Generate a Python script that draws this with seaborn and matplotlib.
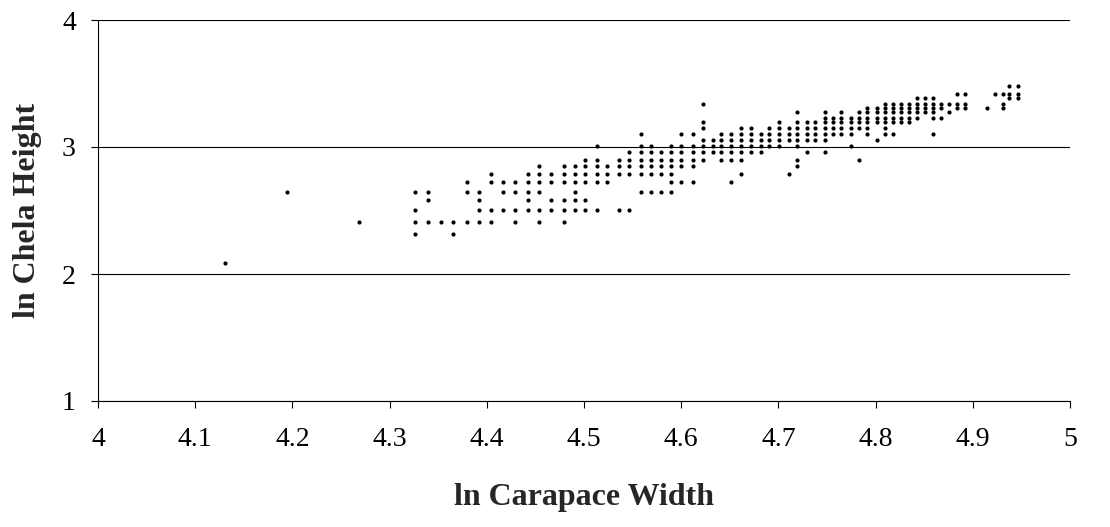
import numpy as np
import pandas as pd
import matplotlib
matplotlib.use("Agg")
import matplotlib.pyplot as plt
import seaborn as sns

# ---- data: ln carapace width (columns) and ln chela height values in each column ----
seg1_width = [4.131, 4.194, 4.269, 4.326, 4.339, 4.353, 4.365, 4.380, 4.392, 4.404]
seg1_height = [
    [2.089], [2.643], [2.407],
    [2.643, 2.502, 2.407, 2.313],
    [2.643, 2.580, 2.407],
    [2.407],
    [2.407, 2.313],
    [2.722, 2.643, 2.407],
    [2.643, 2.580, 2.502, 2.407],
    [2.785, 2.722, 2.502, 2.407],
]

seg2_width = [4.417, 4.429, 4.442, 4.454, 4.466, 4.479, 4.491, 4.501, 4.513, 4.524, 4.536, 4.546]
seg2_height = [
    [2.722, 2.643, 2.502],
    [2.722, 2.643, 2.502, 2.407],
    [2.785, 2.722, 2.643, 2.580, 2.502],
    [2.848, 2.785, 2.722, 2.643, 2.502, 2.407],
    [2.785, 2.722, 2.580, 2.502],
    [2.848, 2.785, 2.722, 2.580, 2.502, 2.407],
    [2.848, 2.785, 2.722, 2.643, 2.580, 2.502],
    [2.895, 2.848, 2.785, 2.722, 2.580, 2.502],
    [3.006, 2.895, 2.848, 2.785, 2.722, 2.502],
    [2.848, 2.785, 2.722],
    [2.895, 2.848, 2.785, 2.502],
    [2.958, 2.895, 2.848, 2.785, 2.502],
]

seg3_width = [4.559, 4.569, 4.579, 4.590, 4.600, 4.612, 4.622, 4.633, 4.641, 4.651, 4.662]
seg3_height = [
    [3.100, 3.006, 2.958, 2.895, 2.848, 2.785, 2.643],
    [3.006, 2.958, 2.895, 2.848, 2.785, 2.643],
    [2.958, 2.895, 2.848, 2.785, 2.643],
    [3.006, 2.958, 2.895, 2.848, 2.785, 2.722, 2.643],
    [3.100, 3.006, 2.958, 2.895, 2.848, 2.722],
    [3.100, 3.006, 2.958, 2.895, 2.848, 2.722],
    [3.336, 3.194, 3.147, 3.053, 3.006, 2.958, 2.895],
    [3.053, 3.006, 2.958],
    [3.100, 3.053, 3.006, 2.958, 2.895],
    [3.100, 3.053, 3.006, 2.958, 2.895, 2.722],
    [3.147, 3.100, 3.053, 3.006, 2.958, 2.895, 2.785],
]

seg4_width = [4.672, 4.682, 4.690, 4.701, 4.711, 4.719, 4.729, 4.738, 4.748, 4.756, 4.764]
seg4_height = [
    [3.147, 3.100, 3.053, 3.006, 2.958],
    [3.100, 3.053, 3.006, 2.958],
    [3.147, 3.100, 3.053, 3.006],
    [3.194, 3.147, 3.100, 3.053, 3.006],
    [3.147, 3.100, 3.053, 2.785],
    [3.273, 3.194, 3.147, 3.100, 3.053, 3.006, 2.895, 2.848],
    [3.194, 3.147, 3.100, 3.053, 2.958],
    [3.194, 3.147, 3.100, 3.053],
    [3.273, 3.226, 3.194, 3.147, 3.100, 3.053, 2.958],
    [3.226, 3.194, 3.147, 3.100],
    [3.273, 3.226, 3.194, 3.147, 3.100],
]

seg5_width = [4.775, 4.783, 4.791, 4.801, 4.810, 4.818, 4.826, 4.834, 4.843, 4.851]
seg5_height = [
    [3.226, 3.194, 3.147, 3.100, 3.006],
    [3.273, 3.226, 3.194, 3.147, 2.895],
    [3.305, 3.273, 3.226, 3.194, 3.147, 3.100],
    [3.305, 3.273, 3.226, 3.194, 3.053],
    [3.336, 3.305, 3.273, 3.226, 3.194, 3.147, 3.100],
    [3.336, 3.305, 3.273, 3.226, 3.194, 3.100],
    [3.336, 3.305, 3.273, 3.226, 3.194],
    [3.336, 3.305, 3.273, 3.226, 3.194],
    [3.383, 3.336, 3.305, 3.273, 3.226],
    [3.383, 3.336, 3.305, 3.273],
]

seg6_width = [4.859, 4.867, 4.876, 4.884, 4.892, 4.915, 4.923, 4.931, 4.937, 4.946]
seg6_height = [
    [3.383, 3.336, 3.305, 3.273, 3.226, 3.100],
    [3.336, 3.305, 3.226],
    [3.336, 3.273],
    [3.415, 3.336, 3.305],
    [3.415, 3.336, 3.305],
    [3.305],
    [3.415],
    [3.415, 3.336, 3.305],
    [3.478, 3.415, 3.383],
    [3.478, 3.415, 3.383],
]

x_ticks = [4.0, 4.1, 4.2, 4.3, 4.4, 4.5, 4.6, 4.7, 4.8, 4.9, 5.0]
x_tick_labels = ["4", "4.1", "4.2", "4.3", "4.4", "4.5", "4.6", "4.7", "4.8", "4.9", "5"]
y_ticks = [1, 2, 3, 4]
y_tick_labels = ["1", "2", "3", "4"]
x_title = "ln Carapace Width"
y_title = "ln Chela Height"

# ---- build table ----
rows = []
for widths, heights in [(seg1_width, seg1_height), (seg2_width, seg2_height),
                        (seg3_width, seg3_height), (seg4_width, seg4_height),
                        (seg5_width, seg5_height), (seg6_width, seg6_height)]:
    for w, hs in zip(widths, heights):
        for h in hs:
            rows.append((w, h))
df = pd.DataFrame(rows, columns=["ln_cw", "ln_ch"])

sns.set_style("ticks")
plt.rcParams['font.family'] = ['Liberation Serif', 'DejaVu Serif']

W, H = 1110, 527
fig = plt.figure(figsize=(W / 100, H / 100), dpi=100)
ax = fig.add_axes([98 / W, 1 - 401 / H, 972 / W, 381 / H])

sns.scatterplot(data=df, x="ln_cw", y="ln_ch", ax=ax, color="black", s=9,
                marker="o", linewidth=0, legend=False, zorder=3)

ax.set_xlim(4, 5)
ax.set_ylim(1, 4)
ax.set_xticks(x_ticks)
ax.set_xticklabels(x_tick_labels)
ax.set_yticks(y_ticks)
ax.set_yticklabels(y_tick_labels)

ax.yaxis.grid(True, color="black", linewidth=0.8)
ax.xaxis.grid(False)
ax.set_axisbelow(True)
for side in ["top", "right"]:
    ax.spines[side].set_visible(False)
for side in ["left", "bottom"]:
    ax.spines[side].set_color("black")
    ax.spines[side].set_linewidth(0.8)

ax.tick_params(axis="both", direction="out", length=5, width=0.8, colors="black",
               labelsize=20)
ax.tick_params(axis="x", pad=14)
ax.tick_params(axis="y", pad=11)

ax.set_xlabel(x_title, fontsize=23, fontweight="bold")
ax.set_ylabel(y_title, fontsize=23, fontweight="bold")
ax.xaxis.set_label_coords(0.5, (401 - 497) / 381)
ax.xaxis.label.set_va("center")
ax.yaxis.set_label_coords((28 - 98) / 972, 0.5)
ax.yaxis.label.set_va("center")

fig.savefig("out.png", dpi=100)
